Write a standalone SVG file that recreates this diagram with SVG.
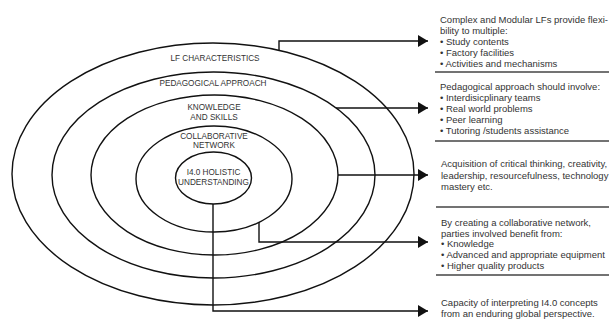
<svg xmlns="http://www.w3.org/2000/svg" width="609" height="336" viewBox="0 0 609 336">
<defs>
<style>
.ring{fill:none;stroke:#111;stroke-width:1.4}
.lbl{font-family:"Liberation Sans",Arial,sans-serif;font-size:8.2px;fill:#333;text-anchor:middle}
.txt{font-family:"Liberation Sans",Arial,sans-serif;font-size:9.5px;fill:#333}
.sep{stroke:#444;stroke-width:1.5}
.con{fill:none;stroke:#111;stroke-width:1.4}
</style>
<marker id="arr" markerUnits="userSpaceOnUse" markerWidth="12" markerHeight="12" viewBox="0 0 10 12" refX="10" refY="6" orient="auto">
<path d="M0,0 L10,6 L0,12 Z" fill="#111"/>
</marker>
</defs>
<rect width="609" height="336" fill="#fff"/>
<g id="ring-lf">
<ellipse class="ring" cx="213" cy="174" rx="201" ry="131"/>
<text class="lbl" x="215" y="61">LF CHARACTERISTICS</text>
</g>
<g id="ring-pedagogical">
<ellipse class="ring" cx="213.5" cy="175" rx="161.5" ry="103"/>
<text class="lbl" x="213" y="86">PEDAGOGICAL APPROACH</text>
</g>
<g id="ring-knowledge">
<ellipse class="ring" cx="214.5" cy="175" rx="123.5" ry="80"/>
<text class="lbl" x="214" y="110">KNOWLEDGE</text>
<text class="lbl" x="214" y="120">AND SKILLS</text>
</g>
<g id="ring-collaborative">
<ellipse class="ring" cx="214" cy="179" rx="78" ry="53"/>
<text class="lbl" x="214" y="139">COLLABORATIVE</text>
<text class="lbl" x="214" y="148">NETWORK</text>
</g>
<g id="ring-holistic">
<ellipse class="ring" cx="213.5" cy="178" rx="38" ry="26"/>
<text class="lbl" x="213.5" y="175">I4.0 HOLISTIC</text>
<text class="lbl" x="213.5" y="185">UNDERSTANDING</text>
</g>
<g id="connectors">
<polyline class="con" points="279,50 279,41 428,41" marker-end="url(#arr)"/>
<polyline class="con" points="336,108 428,108" marker-end="url(#arr)"/>
<polyline class="con" points="338,175 428,175" marker-end="url(#arr)"/>
<polyline class="con" points="259,222 259,242 428,242" marker-end="url(#arr)"/>
<polyline class="con" points="213,204 213,311 428,311" marker-end="url(#arr)"/>
</g>
<g id="note-lf">
<text class="txt" x="440" y="22.5">Complex and Modular LFs provide flexi-</text>
<text class="txt" x="440" y="34">bility to multiple:</text>
<text class="txt" x="440" y="45">• Study contents</text>
<text class="txt" x="440" y="56">• Factory facilities</text>
<text class="txt" x="440" y="67">• Activities and mechanisms</text>
<line class="sep" x1="435" y1="72" x2="609" y2="72"/>
</g>
<g id="note-pedagogical">
<text class="txt" x="440" y="90">Pedagogical approach should involve:</text>
<text class="txt" x="440" y="101">• Interdisicplinary teams</text>
<text class="txt" x="440" y="112">• Real world problems</text>
<text class="txt" x="440" y="123">• Peer learning</text>
<text class="txt" x="440" y="134">• Tutoring /students assistance</text>
<line class="sep" x1="435" y1="141" x2="609" y2="141"/>
</g>
<g id="note-knowledge">
<text class="txt" x="441" y="167">Acquisition of critical thinking, creativity,</text>
<text class="txt" x="441" y="178.5">leadership, resourcefulness, technology</text>
<text class="txt" x="441" y="189.5">mastery etc.</text>
<line class="sep" x1="436" y1="207" x2="609" y2="207"/>
</g>
<g id="note-collaborative">
<text class="txt" x="441" y="225.5">By creating a collaborative network,</text>
<text class="txt" x="441" y="236.5">parties involved benefit from:</text>
<text class="txt" x="441" y="247">• Knowledge</text>
<text class="txt" x="441" y="258">• Advanced and appropriate equipment</text>
<text class="txt" x="441" y="269">• Higher quality products</text>
<line class="sep" x1="436" y1="275" x2="609" y2="275"/>
</g>
<g id="note-holistic">
<text class="txt" x="441" y="305.5">Capacity of interpreting I4.0 concepts</text>
<text class="txt" x="441" y="316.5">from an enduring global perspective.</text>
</g>
</svg>
